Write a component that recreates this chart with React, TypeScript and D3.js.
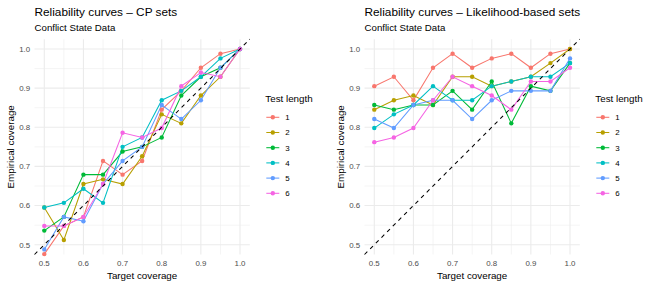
import * as d3 from "d3";

// target coverage levels (x) and axis ticks
const targets = [0.5, 0.55, 0.6, 0.65, 0.7, 0.75, 0.8, 0.85, 0.9, 0.95, 1.0];
const tickValues = [0.5, 0.6, 0.7, 0.8, 0.9, 1.0];
const minorValues = [0.55, 0.65, 0.75, 0.85, 0.95];
const lengths = ["1", "2", "3", "4", "5", "6"];
const palette = ["#F8766D", "#B79F00", "#00BA38", "#00BFC4", "#619CFF", "#F564E3"];

// empirical coverage, CP sets, one array per test length
const cp1 = [0.476, 0.548, 0.571, 0.714, 0.679, 0.714, 0.845, 0.893, 0.952, 0.988, 1.0];
const cp2 = [0.595, 0.512, 0.655, 0.667, 0.655, 0.726, 0.833, 0.81, 0.881, 0.929, 1.0];
const cp3 = [0.536, 0.571, 0.679, 0.679, 0.738, 0.75, 0.774, 0.881, 0.929, 0.952, 1.0];
const cp4 = [0.595, 0.607, 0.643, 0.607, 0.75, 0.774, 0.869, 0.893, 0.929, 0.976, 1.0];
const cp5 = [0.488, 0.571, 0.56, 0.655, 0.714, 0.75, 0.857, 0.821, 0.869, 0.952, 1.0];
const cp6 = [0.548, 0.548, 0.571, 0.655, 0.786, 0.774, 0.798, 0.905, 0.94, 0.929, 1.0];

// empirical coverage, likelihood-based sets
const lk1 = [0.905, 0.929, 0.869, 0.952, 0.988, 0.952, 0.976, 0.988, 0.952, 0.988, 1.0];
const lk2 = [0.845, 0.869, 0.881, 0.857, 0.929, 0.929, 0.905, 0.917, 0.929, 0.964, 1.0];
const lk3 = [0.857, 0.845, 0.857, 0.857, 0.893, 0.845, 0.917, 0.81, 0.905, 0.893, 0.964];
const lk4 = [0.798, 0.833, 0.857, 0.905, 0.869, 0.869, 0.905, 0.917, 0.929, 0.929, 0.964];
const lk5 = [0.821, 0.798, 0.857, 0.869, 0.869, 0.821, 0.869, 0.893, 0.893, 0.893, 0.976];
const lk6 = [0.762, 0.774, 0.798, 0.869, 0.929, 0.905, 0.881, 0.845, 0.917, 0.917, 0.952];

const FONT = "'Liberation Sans', Arial, Helvetica, sans-serif";
const SIZE = 215.3;
const TOP = 39.2;

function Panel({ left, title, series }: { left: number; title: string; series: number[][] }) {
  const x = d3.scaleLinear().domain([0.475, 1.025]).range([0, SIZE]);
  const y = d3.scaleLinear().domain([0.475, 1.025]).range([SIZE, 0]);
  const line = d3
    .line<number>()
    .x((_, i) => x(targets[i]))
    .y((d) => y(d));
  const legendX = left + SIZE + 15.5;

  return (
    <g>
      <text x={left} y={16} fontSize={11.8} fill="#000">{title}</text>
      <text x={left} y={30.5} fontSize={9.7} fill="#000">Conflict State Data</text>

      <g transform={`translate(${left},${TOP})`}>
        {minorValues.map((v) => (
          <g key={"m" + v}>
            <line x1={x(v)} x2={x(v)} y1={0} y2={SIZE} stroke="#EBEBEB" strokeWidth={0.55} />
            <line x1={0} x2={SIZE} y1={y(v)} y2={y(v)} stroke="#EBEBEB" strokeWidth={0.55} />
          </g>
        ))}
        {tickValues.map((v) => (
          <g key={"t" + v}>
            <line x1={x(v)} x2={x(v)} y1={0} y2={SIZE} stroke="#EBEBEB" strokeWidth={1.1} />
            <line x1={0} x2={SIZE} y1={y(v)} y2={y(v)} stroke="#EBEBEB" strokeWidth={1.1} />
            <text x={x(v)} y={SIZE + 11.3} fontSize={7.9} fill="#4D4D4D" textAnchor="middle">
              {d3.format(".1f")(v)}
            </text>
            <text x={-4.3} y={y(v) + 2.8} fontSize={7.9} fill="#4D4D4D" textAnchor="end">
              {d3.format(".1f")(v)}
            </text>
          </g>
        ))}

        {series.map((s, k) => (
          <path key={"l" + k} d={line(s) ?? ""} fill="none" stroke={palette[k]} strokeWidth={1.05} />
        ))}
        {series.map((s, k) =>
          s.map((v, i) => (
            <circle key={`p${k}-${i}`} cx={x(targets[i])} cy={y(v)} r={2.2} fill={palette[k]} />
          ))
        )}

        <line
          x1={x(0.475)}
          y1={y(0.475)}
          x2={x(1.025)}
          y2={y(1.025)}
          stroke="#000"
          strokeWidth={1.05}
          strokeDasharray="4,4"
        />
      </g>

      <text x={left + SIZE / 2} y={279} fontSize={9.8} textAnchor="middle" fill="#000">
        Target coverage
      </text>
      <text
        transform={`translate(${left - 21},${TOP + SIZE / 2}) rotate(-90)`}
        fontSize={9.8}
        textAnchor="middle"
        fill="#000"
      >
        Empirical coverage
      </text>

      <text x={legendX} y={102.3} fontSize={9.8} fill="#000">Test length</text>
      {lengths.map((lab, k) => {
        const cy = 117.3 + k * 15.2;
        return (
          <g key={"k" + lab}>
            <line x1={legendX + 1} x2={legendX + 14} y1={cy} y2={cy} stroke={palette[k]} strokeWidth={1.05} />
            <circle cx={legendX + 7.5} cy={cy} r={2.2} fill={palette[k]} />
            <text x={legendX + 20} y={cy + 2.8} fontSize={7.9} fill="#000">{lab}</text>
          </g>
        );
      })}
    </g>
  );
}

export default function App() {
  return (
    <svg
      width={650}
      height={288}
      style={{ position: "absolute", left: 0, top: 0, background: "#fff" }}
      fontFamily={FONT}
    >
      <rect width={650} height={288} fill="#fff" />
      <Panel left={34.5} title="Reliability curves – CP sets" series={[cp1, cp2, cp3, cp4, cp5, cp6]} />
      <Panel left={364.5} title="Reliability curves – Likelihood-based sets" series={[lk1, lk2, lk3, lk4, lk5, lk6]} />
    </svg>
  );
}
